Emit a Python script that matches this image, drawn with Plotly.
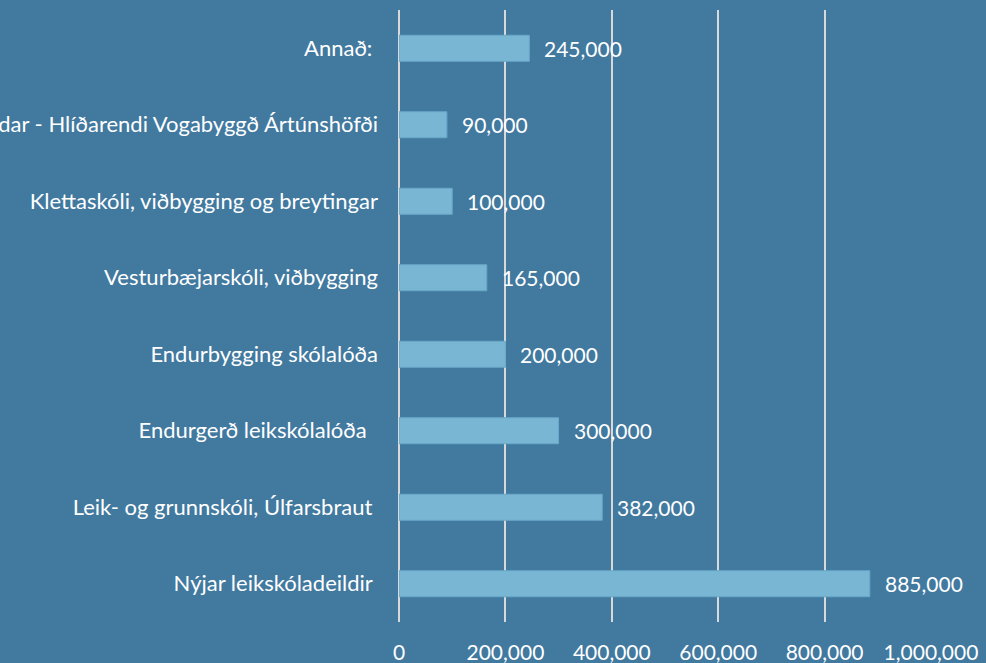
import plotly.graph_objects as go

categories = [
    "Nýjar leikskóladeildir\u00a0",
    "Leik- og grunnskóli, Úlfarsbraut\u00a0",
    "Endurgerð leikskólalóða\u00a0\u00a0",
    "Endurbygging skólalóða",
    "Vesturbæjarskóli, viðbygging",
    "Klettaskóli, viðbygging og breytingar",
    "Skólar í nýjum hverfum, undirbúningur framkvæmdar - Hlíðarendi Vogabyggð Ártúnshöfði",
    "Annað:\u00a0",
]
values = [885000, 382000, 300000, 200000, 165000, 100000, 90000, 245000]
tick_vals = [0, 200000, 400000, 600000, 800000, 1000000]
tick_text = ["0", "200,000", "400,000", "600,000", "800,000", "1,000,000"]

BG = "#41799F"
FONT = "Lato"
FS = 21
FS_CAT = 22

fig = go.Figure()
fig.add_trace(go.Bar(
    x=values, y=categories, orientation="h",
    marker=dict(color="#79B6D4", line=dict(color="#6AA7C8", width=1)),
    width=0.34,
    hoverinfo="skip",
))
for v, c in zip(values, categories):
    fig.add_annotation(x=v, y=c, text=f"{v:,}", showarrow=False,
                       xanchor="left", xshift=13,
                       font=dict(family=FONT, size=FS, color="white"))

fig.update_layout(
    width=986, height=663,
    paper_bgcolor=BG, plot_bgcolor=BG,
    margin=dict(l=399, r=55, t=10, b=41),
    showlegend=False,
    font=dict(family=FONT, size=FS, color="white"),
)
fig.update_xaxes(range=[0, 1000000], tickvals=tick_vals, ticktext=tick_text,
                 showgrid=True, gridcolor="#D9D9D9", gridwidth=1.5,
                 zeroline=True, zerolinecolor="#D9D9D9", zerolinewidth=1.5,
                 showline=False, ticks="", ticklabelstandoff=16,
                 tickfont=dict(family=FONT, size=FS, color="white"), automargin=False)
fig.update_yaxes(categoryorder="array", categoryarray=categories,
                 showgrid=False, zeroline=False, showline=False, ticks="",
                 ticklabelstandoff=20, automargin=False,
                 tickfont=dict(family=FONT, size=FS_CAT, color="white"))

fig.write_html("out.html", config={"displayModeBar": False},
               post_script="document.body.style.margin='0';document.body.style.background='%s';" % BG)
